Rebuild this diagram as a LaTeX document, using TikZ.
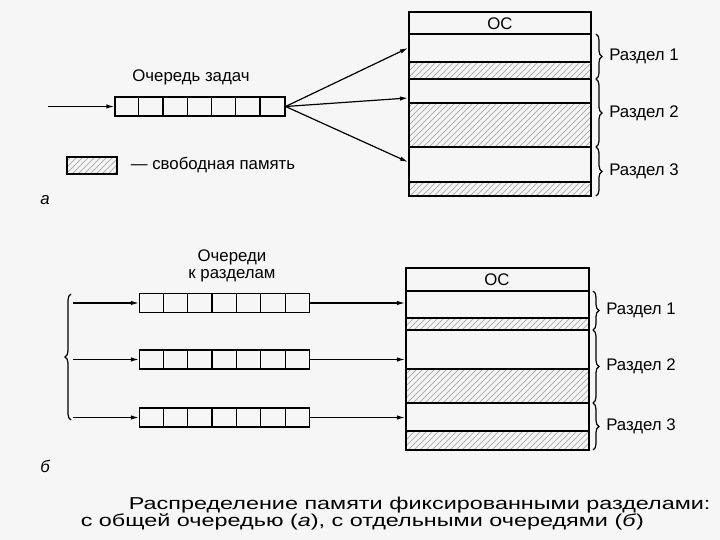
\documentclass[tikz,border=0pt]{standalone}
\usepackage{fontspec}
\setmainfont{Liberation Sans}
\usetikzlibrary{arrows.meta,positioning,patterns,decorations.pathreplacing}

\begin{document}
\begin{tikzpicture}[x=0.5pt,y=-0.5pt,>={Latex[length=4pt,width=2.2pt]},line width=0.6pt,
  queue/.style={draw, minimum width=85pt, minimum height=9.5pt, inner sep=0pt},
  free/.style={pattern=north east lines, pattern color=gray!60},
  lbl/.style={font=\fontsize{8.4}{8.6}\selectfont},
  capt/.style={font=\fontsize{8.6}{10}\selectfont, inner sep=0pt, anchor=base west, xscale=1.36, transform shape},
  brc/.style={decorate, decoration={brace, amplitude=3pt}}]

% Background
\fill[gray!7] (0,0) rectangle (720,540);

% (a) Common queue
\node[queue] (qa) at (200,106.5) {};
\foreach \i in {1,...,6}
  \draw ([xshift=\i*12.14pt]qa.north west) -- ([xshift=\i*12.14pt]qa.south west);
\node[lbl] (qaname) at (191,77) {Очередь задач};
\coordinate (ina) at (48,106.5);
\draw[->] (ina) -- (qa.west);

% Memory (a)
\draw[free] (409,62) rectangle (591,79);
\draw[free] (409,103) rectangle (591,147);
\draw[free] (409,182) rectangle (591,196);
\draw (409,12) rectangle (591,196);
\foreach \y in {34,79,147}
  \draw (409,\y) -- (591,\y);
\node[lbl] (osa) at (500,24) {ОС};

% Arrows to partitions
\coordinate (pa1) at (408,48);
\coordinate (pa2) at (408,98);
\coordinate (pa3) at (408,162);
\foreach \p in {pa1,pa2,pa3}
  \draw[->] (qa.east) -- (\p);

% Partition braces
\draw[brc] (596,34) -- (596,79) node[midway, right=3pt, lbl] (ra1) {Раздел 1};
\draw[brc] (596,79) -- (596,147) node[midway, right=3pt, lbl] (ra2) {Раздел 2};
\draw[brc] (596,147) -- (596,196) node[midway, right=3pt, lbl] (ra3) {Раздел 3};

% Legend
\node[draw, free, minimum width=25pt, minimum height=8.5pt, inner sep=0pt] (leg) at (92,165.5) {};
\node[lbl, right=3pt of leg] (legtxt) {— свободная память};
\node[lbl] (taga) at (45,200) {\itshape а};

% (b) Separate queues
\node[lbl, align=center] (qbname) at (232,266) {Очереди\\к разделам};
\foreach \n/\y in {1/303,2/359.5,3/417.5} {
  \node[queue] (qb\n) at (224.5,\y) {};
  \foreach \i in {1,...,6}
    \draw ([xshift=\i*12.2pt]qb\n.north west) -- ([xshift=\i*12.2pt]qb\n.south west);
  \coordinate (sb\n) at (73,\y);
  \coordinate (pb\n) at (405,\y);
  \draw[->] (sb\n) -- (qb\n.west);
  \draw[->] (qb\n.east) -- (pb\n);
}
\draw[brc] (71,420) -- (71,294);

% Memory (b)
\draw[free] (406,318) rectangle (589,330);
\draw[free] (406,369) rectangle (589,403);
\draw[free] (406,431) rectangle (589,450);
\draw (406,268) rectangle (589,450);
\foreach \y in {291,330,403}
  \draw (406,\y) -- (589,\y);
\node[lbl] (osb) at (497,280) {ОС};

\draw[brc] (593,291) -- (593,330) node[midway, right=3pt, lbl] (rb1) {Раздел 1};
\draw[brc] (593,330) -- (593,403) node[midway, right=3pt, lbl] (rb2) {Раздел 2};
\draw[brc] (593,403) -- (593,450) node[midway, right=3pt, lbl] (rb3) {Раздел 3};
\node[lbl] (tagb) at (45,466) {\itshape б};

% Caption
\node[capt] (cap1) at (128,510) {Распределение памяти фиксированными разделами:};
\node[capt] (cap2) at (80,527) {с общей очередью (\textit{а}), с отдельными очередями (\textit{б})};

\end{tikzpicture}
\end{document}
